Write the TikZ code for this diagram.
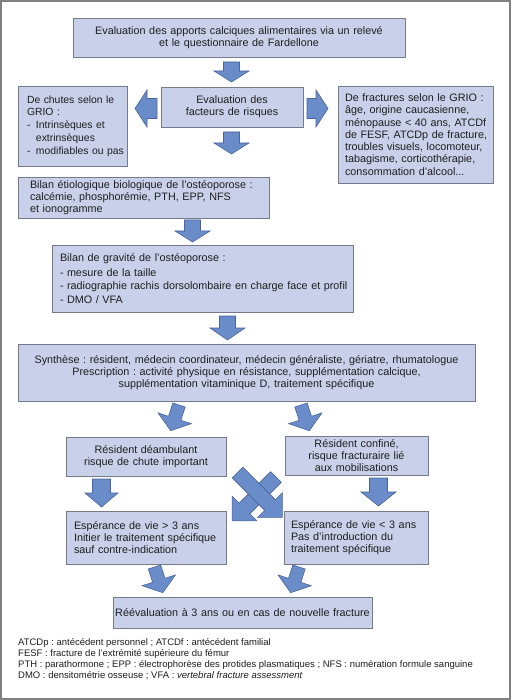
\documentclass[tikz,border=0pt]{standalone}
\usepackage{fontspec}
\setmainfont{Liberation Sans}
\frenchspacing
\definecolor{boxfill}{RGB}{201,209,234}
\definecolor{boxline}{RGB}{118,122,138}
\definecolor{arrfill}{RGB}{106,141,202}
\definecolor{arrline}{RGB}{72,100,160}
\definecolor{framecol}{RGB}{128,128,128}
\definecolor{txt}{RGB}{30,30,30}
\newcommand{\barrow}[7]{%
  \draw[blockarrow, shift={(#1,#2)}, rotate=#3] (-#5,0) -- (-#5,#4-#7) -- (-#6,#4-#7) -- (0,#4) -- (#6,#4-#7) -- (#5,#4-#7) -- (#5,0) -- cycle;}
\newcommand{\dsh}[1]{\makebox[#1][l]{-}}
\begin{document}
\begin{tikzpicture}[x=1pt,y=-1pt,
  flowbox/.style={draw=boxline, fill=boxfill, line width=0.8pt, inner sep=0pt,
    font=\fontsize{10.8}{12.3}\selectfont, text=txt},
  blockarrow/.style={draw=arrline, fill=arrfill, line width=0.6pt, line join=miter},
  legend/.style={inner sep=0pt, anchor=north west, align=left, text=txt,
    font=\fontsize{9.5}{11}\selectfont}]
\useasboundingbox (0,0) rectangle (511,700);
\fill[white] (0,0) rectangle (511,700);
\draw[framecol, line width=1.5pt] (1,1) rectangle (510,699);

% boxes
\node[flowbox, minimum width=332pt, minimum height=39pt, text width=332pt, align=center] (apports) at (239,37.5)
  {Evaluation des apports calciques alimentaires via un relevé\\ et le questionnaire de Fardellone};
\node[flowbox, minimum width=142pt, minimum height=40pt, text width=142pt, align=center] (facteurs) at (232,107)
  {Evaluation des\\ facteurs de risques};
\node[flowbox, minimum width=109pt, minimum height=80pt, text width=91pt, align=left,
  font=\fontsize{10.4}{12.8}\selectfont] (chutes) at (72.5,126)
  {\mbox{De chutes selon le}\\ GRIO :\\ \mbox{\dsh{9pt}Intrinsèques et}\\ \hspace*{9pt}extrinsèques\\ \mbox{\dsh{9pt}modifiables ou pas}};
\node[flowbox, minimum width=155pt, minimum height=97pt, text width=141pt, align=left] (fractures) at (415.5,134.5)
  {\mbox{De fractures selon le GRIO :}\\ \mbox{âge, origine caucasienne,}\\ \mbox{ménopause < 40 ans, ATCDf}\\ \mbox{de FESF, ATCDp de fracture,}\\ \mbox{troubles visuels, locomoteur,}\\ \mbox{tabagisme, corticothérapie,}\\ \mbox{consommation d'alcool...}};
\node[flowbox, minimum width=251pt, minimum height=41pt, text width=227pt, align=left] (etio) at (143.5,197.5)
  {\mbox{Bilan étiologique biologique de l’ostéoporose :}\\ \mbox{calcémie, phosphorémie, PTH, EPP, NFS}\\ et ionogramme};
\node[flowbox, minimum width=301pt, minimum height=67pt, text width=285pt, align=left,
  font=\fontsize{10.8}{13.6}\selectfont] (gravite) at (202.5,278.5)
  {\mbox{Bilan de gravité de l’ostéoporose :}\\[1.5pt] \mbox{\dsh{7pt}mesure de la taille}\\ \mbox{\dsh{7pt}radiographie rachis dorsolombaire en charge face et profil}\\ \dsh{7pt}DMO / VFA};
\node[flowbox, minimum width=457pt, minimum height=57pt, text width=457pt, align=center] (synthese) at (246.5,372.5)
  {Synthèse : résident, médecin coordinateur, médecin généraliste, gériatre, rhumatologue\\ Prescription : activité physique en résistance, supplémentation calcique,\\ supplémentation vitaminique D, traitement spécifique};
\node[flowbox, minimum width=160pt, minimum height=39pt, text width=160pt, align=center] (deamb) at (146,456.5)
  {Résident déambulant\\ risque de chute important};
\node[flowbox, minimum width=143pt, minimum height=39pt, text width=143pt, align=center] (confine) at (356.5,455.5)
  {Résident confiné,\\ risque fracturaire lié\\ aux mobilisations};
\node[flowbox, minimum width=160pt, minimum height=53pt, text width=144pt, align=left] (espsup) at (146,537.5)
  {\mbox{Espérance de vie > 3 ans}\\ \mbox{Initier le traitement spécifique}\\ \mbox{sauf contre-indication}};
\node[flowbox, minimum width=144pt, minimum height=53pt, text width=130pt, align=left] (espinf) at (356,537.5)
  {\mbox{Espérance de vie < 3 ans}\\ \mbox{Pas d’introduction du}\\ \mbox{traitement spécifique}};
\node[flowbox, minimum width=259pt, minimum height=31pt, text width=259pt, align=center] (reeval) at (242.5,612.5)
  {Réévaluation à 3 ans ou en cas de nouvelle fracture};

% legend
\node[legend] (leg) at (18,638.5)
  {ATCDp : antécédent personnel ; ATCDf : antécédent familial\\
   FESF : fracture de l’extrémité supérieure du fémur\\
   PTH : parathormone ; EPP : électrophorèse des protides plasmatiques ; NFS : numération formule sanguine\\
   DMO : densitométrie osseuse ; VFA : \textit{vertebral fracture assessment}};

% block arrows
\barrow{231.5}{62}{0}{20}{8}{17.5}{11}
\barrow{157}{108.5}{-90}{22}{10}{18.5}{12}
\barrow{307}{108.5}{90}{21}{10}{18.5}{12}
\barrow{231.5}{132}{0}{22}{8}{17.5}{11}
\barrow{192.5}{220}{0}{22}{8}{17.5}{11}
\barrow{227.5}{316}{0}{24}{8}{17.5}{12}
\barrow{179}{405}{-18}{27}{6.5}{17.5}{13}
\barrow{301}{405}{18}{27}{6.5}{17.5}{13}
\barrow{101.5}{479}{0}{28}{9}{16.5}{14}
\barrow{378.5}{478}{0}{28}{9}{17.5}{14}
\barrow{276}{477}{-45}{62}{7.5}{17.5}{17.5}
\barrow{237.5}{472.5}{45}{63.5}{7.5}{17.5}{17.5}
\barrow{154.5}{567}{18}{27}{6.5}{17.5}{13}
\barrow{299}{567}{-18}{27}{6.5}{17.5}{13}
\end{tikzpicture}
\end{document}
